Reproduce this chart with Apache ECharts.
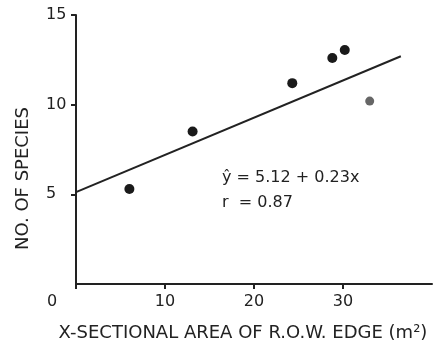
<!DOCTYPE html>
<html>
<head>
<meta charset="utf-8">
<script src="https://cdn.jsdelivr.net/npm/echarts@6/dist/echarts.min.js"></script>
<style>
  html, body { margin: 0; padding: 0; background: #fff; }
  #chart { width: 439px; height: 347px; }
</style>
</head>
<body>
<div id="chart"></div>
<script>
// species counts vs cross-sectional area of right-of-way edge
const areaX = [6.0, 13.1, 24.3, 28.8, 30.2]
const speciesY = [5.3, 8.5, 11.2, 12.6, 13.05]
// the grey half-filled point
const greyPoint = [[33.0, 10.2]]
// fitted line as drawn
const fitLine = [[0, 5.12], [36.5, 12.7]]
const yTicks = [5, 10, 15]
const xTicks = [0, 10, 20, 30]

const ink = '#222'
const font = 'DejaVu Sans'

const chart = echarts.init(document.getElementById('chart'))
chart.setOption({
  animation: false,
  grid: { left: 76, right: 7, top: 15, bottom: 63 },
  xAxis: {
    type: 'value',
    min: 0,
    max: 40,
    interval: 10,
    splitLine: { show: false },
    axisLine: { lineStyle: { color: ink, width: 2 } },
    axisTick: { show: true, length: 5, inside: false, lineStyle: { color: ink, width: 2 } },
    axisLabel: {
      margin: 10,
      color: ink,
      fontFamily: font,
      fontSize: 16,
      showMaxLabel: false,
      formatter: (v) => (xTicks.includes(v) ? (v === 0 ? '{z|0}' : String(v)) : ''),
      rich: { z: { padding: [0, 48, 0, 0], fontFamily: font, fontSize: 16, color: ink } },
    },
    name: 'X-SECTIONAL AREA OF R.O.W. EDGE (m²)',
    nameLocation: 'middle',
    nameGap: 40,
    nameTextStyle: { color: ink, fontFamily: font, fontSize: 18, padding: [0, 22, 0, 0] },
  },
  yAxis: {
    type: 'value',
    min: 0,
    max: 15,
    interval: 5,
    splitLine: { show: false },
    axisLine: { show: true, lineStyle: { color: ink, width: 2 } },
    axisTick: { show: true, length: 5, lineStyle: { color: ink, width: 2 } },
    axisLabel: {
      align: 'left',
      margin: 30,
      color: ink,
      fontFamily: font,
      fontSize: 16,
      showMinLabel: false,
      formatter: (v) => (yTicks.includes(v) ? String(v) : ''),
    },
    name: 'NO. OF SPECIES',
    nameLocation: 'middle',
    nameRotate: 90,
    nameGap: 44,
    nameTextStyle: { color: ink, fontFamily: font, fontSize: 18, padding: [0, 58, 0, 0] },
  },
  graphic: [
    {
      type: 'text',
      left: 222,
      top: 170,
      style: { text: 'ŷ = 5.12 + 0.23x', font: '16px "DejaVu Sans"', fill: ink },
    },
    {
      type: 'text',
      left: 222,
      top: 195,
      style: { text: 'r  = 0.87', font: '16px "DejaVu Sans"', fill: ink },
    },
  ],
  series: [
    {
      type: 'line',
      data: fitLine,
      symbol: 'none',
      lineStyle: { color: ink, width: 2 },
      z: 2,
    },
    {
      type: 'scatter',
      data: areaX.map((x, i) => [x, speciesY[i]]),
      symbolSize: 10,
      itemStyle: { color: '#1a1a1a', opacity: 1 },
      z: 3,
    },
    {
      type: 'scatter',
      data: greyPoint,
      symbolSize: 9,
      itemStyle: { color: '#666', opacity: 1 },
      z: 3,
    },
  ],
})
</script>
</body>
</html>
